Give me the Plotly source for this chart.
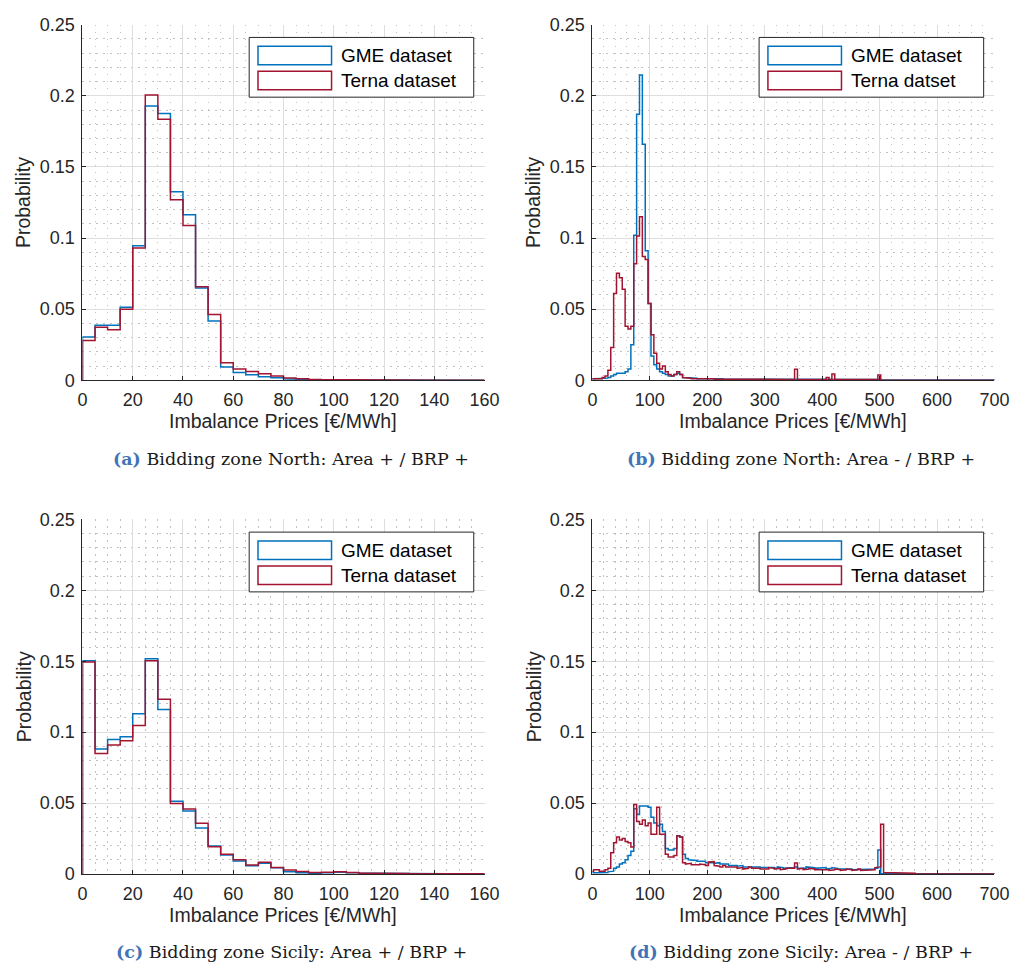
import numpy as np
import plotly.graph_objects as go

# ---------------------------------------------------------------------------
# Histogram data (probability per bin)
# ---------------------------------------------------------------------------
# Bidding zone North / Sicily, Area + / BRP + : 5 EUR/MWh bins from 0
bin_width = 5
start_pos = 0
# Area - / BRP + : 5 EUR/MWh bins starting at -3
start_neg = -3

gme_north_pos = [0.0304, 0.0387, 0.0387, 0.0513, 0.0946, 0.1929, 0.1876, 0.1326,
                 0.1163, 0.0649, 0.0417, 0.0094, 0.0055, 0.0039, 0.0025, 0.0018,
                 0.0010, 0.0006, 0.0004, 0.0003, 0.0002, 0.0002, 0.0001, 0.0001,
                 0.0001, 0.0001, 0.0001, 0.0001, 0.0000, 0.0001, 0.0000, 0.0000]
terna_north_pos = [0.0279, 0.0373, 0.0355, 0.0500, 0.0930, 0.2005, 0.1835, 0.1270,
                   0.1089, 0.0658, 0.0463, 0.0124, 0.0080, 0.0062, 0.0046, 0.0030,
                   0.0016, 0.0010, 0.0006, 0.0004, 0.0003, 0.0002, 0.0002, 0.0001,
                   0.0001, 0.0001, 0.0001, 0.0001, 0.0001, 0.0000, 0.0000, 0.0000]

gme_sicily_pos = [0.1503, 0.0882, 0.0948, 0.0967, 0.1130, 0.1517, 0.1160, 0.0513,
                  0.0444, 0.0325, 0.0198, 0.0134, 0.0092, 0.0058, 0.0076, 0.0044,
                  0.0015, 0.0008, 0.0006, 0.0008, 0.0012, 0.0009, 0.0005, 0.0004,
                  0.0007, 0.0004, 0.0002, 0.0003, 0.0002, 0.0001, 0.0001, 0.0001]
terna_sicily_pos = [0.1494, 0.0849, 0.0909, 0.0939, 0.1047, 0.1503, 0.1232, 0.0497,
                    0.0458, 0.0357, 0.0193, 0.0140, 0.0101, 0.0064, 0.0083, 0.0046,
                    0.0028, 0.0018, 0.0010, 0.0012, 0.0015, 0.0010, 0.0006, 0.0005,
                    0.0009, 0.0004, 0.0002, 0.0003, 0.0002, 0.0001, 0.0001, 0.0001]

gme_north_neg = [
    0.001, 0.001, 0.001, 0.001, 0.001, 0.0015, 0.002, 0.003, 0.004, 0.005,
    0.005, 0.005, 0.006, 0.008, 0.025, 0.102, 0.187, 0.2146, 0.166, 0.091,
    0.054, 0.017, 0.011, 0.008, 0.006, 0.005, 0.004, 0.003, 0.003, 0.004,
    0.005, 0.004, 0.002, 0.002, 0.002, 0.0015, 0.0015, 0.001, 0.001, 0.001,
    0.0015, 0.001, 0.001, 0.001, 0.001, 0.001, 0.0008, 0.0008, 0.0008, 0.0008,
    0.0008, 0.0007, 0.0008, 0.0007, 0.0007, 0.0007, 0.0006, 0.0007, 0.0006, 0.0006,
    0.0006, 0.0006, 0.0005, 0.0006, 0.0005, 0.0005, 0.0006, 0.0005, 0.0005, 0.0005,
    0.0005, 0.0006, 0.0005, 0.0004, 0.0005, 0.0004, 0.0004, 0.0005, 0.0004, 0.0004,
    0.0004, 0.0004, 0.0005, 0.0004, 0.0005, 0.0004, 0.0004, 0.0003, 0.0004, 0.0004,
    0.0004, 0.0003, 0.0004, 0.0003, 0.0004, 0.0003, 0.0003, 0.0004, 0.0003, 0.0004,
    0.0005, 0.0002, 0.0002, 0.0002, 0.0001, 0.0002, 0.0002, 0.0001, 0.0002, 0.0002,
    0.0001, 0.0002, 0.0002, 0.0001, 0.0002, 0.0001, 0.0002, 0.0002, 0.0001, 0.0002,
    0.0001, 0.0002, 0.0001, 0.0002, 0.0002, 0.0001, 0.0002, 0.0001, 0.0002, 0.0001,
    0.0002, 0.0001, 0.0002, 0.0001, 0.0002, 0.0002, 0.0001, 0.0002, 0.0001, 0.0002,
    0.0002]
terna_north_neg = [
    0.001, 0.001, 0.0005, 0.001, 0.002, 0.003, 0.007, 0.023, 0.061, 0.0753,
    0.072, 0.064, 0.038, 0.036, 0.038, 0.082, 0.1015, 0.115, 0.087, 0.085,
    0.054, 0.032, 0.019, 0.012, 0.008, 0.010, 0.006, 0.004, 0.003, 0.004,
    0.006, 0.004, 0.002, 0.0015, 0.0015, 0.001, 0.001, 0.001, 0.001, 0.0015,
    0.0015, 0.001, 0.001, 0.0008, 0.001, 0.0008, 0.001, 0.0008, 0.0008, 0.001,
    0.0008, 0.0008, 0.001, 0.0008, 0.0008, 0.0006, 0.0008, 0.0006, 0.0008, 0.0006,
    0.0006, 0.0008, 0.0006, 0.0006, 0.0008, 0.0006, 0.0006, 0.0005, 0.0006, 0.0008,
    0.0006, 0.0078, 0.0006, 0.0005, 0.0006, 0.0005, 0.0006, 0.0005, 0.0005, 0.0006,
    0.0005, 0.0006, 0.002, 0.0006, 0.0044, 0.0006, 0.0005, 0.0005, 0.0006, 0.0005,
    0.0005, 0.0006, 0.0005, 0.0005, 0.0006, 0.0005, 0.0005, 0.0006, 0.0005, 0.0006,
    0.0037, 0, 0, 0, 0, 0, 0, 0, 0, 0,
    0, 0, 0, 0, 0, 0, 0, 0, 0, 0,
    0, 0, 0, 0, 0, 0, 0, 0, 0, 0,
    0, 0, 0, 0, 0, 0, 0, 0, 0, 0,
    0]

gme_sicily_neg = [
    0.001, 0.0008, 0.0008, 0.0008, 0.001, 0.001, 0.0015, 0.002, 0.004, 0.005,
    0.007, 0.008, 0.010, 0.013, 0.016, 0.046, 0.042, 0.048, 0.048, 0.048,
    0.047, 0.040, 0.036, 0.034, 0.035, 0.030, 0.018, 0.017, 0.017, 0.018,
    0.027, 0.026, 0.014, 0.011, 0.010, 0.0095, 0.0095, 0.009, 0.0095, 0.009,
    0.008, 0.0085, 0.008, 0.0075, 0.008, 0.007, 0.0065, 0.007, 0.006, 0.0065,
    0.006, 0.0055, 0.006, 0.005, 0.0055, 0.005, 0.0055, 0.005, 0.005, 0.0045,
    0.005, 0.0045, 0.005, 0.0045, 0.004, 0.005, 0.0045, 0.004, 0.0045, 0.004,
    0.0045, 0.005, 0.004, 0.0045, 0.004, 0.005, 0.005, 0.0045, 0.004, 0.0045,
    0.004, 0.0045, 0.0035, 0.004, 0.0045, 0.004, 0.0035, 0.004, 0.0035, 0.004,
    0.0035, 0.003, 0.0035, 0.003, 0.0035, 0.003, 0.0035, 0.003, 0.0035, 0.004,
    0.017, 0.0003, 0.0002, 0.0003, 0.0002, 0.0002, 0.0003, 0.0002, 0.0002, 0.0003,
    0.0002, 0.0002, 0.0003, 0.0002, 0.0002, 0.0002, 0.0003, 0.0002, 0.0002, 0.0002,
    0.0003, 0.0002, 0.0002, 0.0002, 0.0003, 0.0002, 0.0002, 0.0002, 0.0002, 0.0003,
    0.0002, 0.0002, 0.0002, 0.0003, 0.0002, 0.0002, 0.0002, 0.0002, 0.0002, 0.0003,
    0.0002]
terna_sicily_neg = [
    0.002, 0.003, 0.003, 0.002, 0.002, 0.003, 0.004, 0.015, 0.022, 0.026,
    0.024, 0.025, 0.023, 0.022, 0.019, 0.049, 0.037, 0.035, 0.038, 0.034,
    0.036, 0.028, 0.028, 0.047, 0.028, 0.028, 0.014, 0.012, 0.012, 0.013,
    0.027, 0.026, 0.008, 0.007, 0.0075, 0.0065, 0.006, 0.0065, 0.007, 0.0065,
    0.006, 0.0085, 0.0087, 0.006, 0.0055, 0.005, 0.006, 0.005, 0.0045, 0.005,
    0.005, 0.004, 0.0045, 0.0035, 0.004, 0.005, 0.004, 0.0045, 0.004, 0.0035,
    0.004, 0.0035, 0.0045, 0.004, 0.0035, 0.004, 0.003, 0.0035, 0.004, 0.0035,
    0.004, 0.0078, 0.0035, 0.004, 0.003, 0.0035, 0.004, 0.0035, 0.003, 0.0035,
    0.003, 0.0035, 0.003, 0.0025, 0.003, 0.0035, 0.003, 0.0025, 0.003, 0.0035,
    0.003, 0.0025, 0.003, 0.0035, 0.0025, 0.003, 0.0025, 0.003, 0.003, 0.0045,
    0.005, 0.035, 0.001, 0.0008, 0.001, 0.0008, 0.001, 0.0008, 0.0006, 0.0008,
    0.0006, 0.0005, 0.0005, 0, 0, 0, 0, 0, 0, 0,
    0, 0, 0, 0, 0, 0, 0, 0, 0, 0,
    0, 0, 0, 0, 0, 0, 0, 0, 0, 0,
    0]

y_ticks = [0, 0.05, 0.1, 0.15, 0.2, 0.25]
x_ticks_pos = [0, 20, 40, 60, 80, 100, 120, 140, 160]
x_ticks_neg = [0, 100, 200, 300, 400, 500, 600, 700]

series_names = ["GME dataset", "Terna dataset"]
series_names_b = ["GME dataset", "Terna datset"]
captions = [
    ("(a)", "Bidding zone North: Area + / BRP +"),
    ("(b)", "Bidding zone North: Area - / BRP +"),
    ("(c)", "Bidding zone Sicily: Area + / BRP +"),
    ("(d)", "Bidding zone Sicily: Area - / BRP +"),
]

# ---------------------------------------------------------------------------
# Styling
# ---------------------------------------------------------------------------
W, H = 1032, 980
BLUE = "#0072BD"
RED = "#A2142F"
AXIS = "#262626"
SANS = "Liberation Sans, Arial, sans-serif"
SERIF = "DejaVu Serif, serif"

# plot areas in pixels: (left, right, top, bottom)
panels = {
    "a": (79, 489, 15, 378),
    "b": (599, 1009, 15, 378),
    "c": (79, 489, 520, 882),
    "d": (599, 1009, 520, 882),
}


def px(x):
    return x / W


def py(y):
    return 1 - y / H


def stairs(values, start, width):
    edges = start + width * np.arange(len(values) + 1)
    xs, ys = [edges[0]], [0.0]
    for i, v in enumerate(values):
        xs += [edges[i], edges[i + 1]]
        ys += [v, v]
    xs.append(edges[-1])
    ys.append(0.0)
    return xs, ys


fig = go.Figure()

panel_data = [
    ("a", "x", "y", gme_north_pos, terna_north_pos, start_pos, 160, x_ticks_pos, 5, series_names),
    ("b", "x2", "y2", gme_north_neg, terna_north_neg, start_neg, 700, x_ticks_neg, 20, series_names_b),
    ("c", "x3", "y3", gme_sicily_pos, terna_sicily_pos, start_pos, 160, x_ticks_pos, 5, series_names),
    ("d", "x4", "y4", gme_sicily_neg, terna_sicily_neg, start_neg, 700, x_ticks_neg, 20, series_names),
]

shapes, annotations = [], []
layout_axes = {}

for key, xa, ya, gme, terna, start, xmax, xt, xminor, names in panel_data:
    for vals, col in ((gme, BLUE), (terna, RED)):
        xs, ys = stairs(vals, start, bin_width)
        fig.add_trace(go.Scatter(x=xs, y=ys, mode="lines", xaxis=xa, yaxis=ya,
                                 line=dict(color=col, width=1.5),
                                 showlegend=False, hoverinfo="skip"))

    L, R, T, B = panels[key]
    xname = "xaxis" + xa[1:]
    yname = "yaxis" + ya[1:]
    common = dict(
        showline=True, linecolor=AXIS, linewidth=1, mirror=False,
        ticks="inside", ticklen=4, tickcolor=AXIS, tickwidth=1,
        showgrid=True, gridcolor="#dedede", gridwidth=1,
        zeroline=False, tickfont=dict(family=SANS, size=18, color=AXIS),
        ticklabelstandoff=3, fixedrange=True,
    )
    minor_grid = dict(tick0=0, showgrid=True, gridcolor="#c2c2c2",
                      griddash="1.5px,5.5px", gridwidth=1, ticks="")
    layout_axes[xname] = dict(
        common, domain=[px(L), px(R)], anchor=ya, range=[0, xmax],
        tickvals=xt, ticktext=[str(v) for v in xt],
        minor=dict(minor_grid, dtick=xminor),
    )
    layout_axes[yname] = dict(
        common, domain=[py(B), py(T)], anchor=xa, range=[0, 0.25],
        tickvals=y_ticks, ticktext=["0", "0.05", "0.1", "0.15", "0.2", "0.25"],
        minor=dict(minor_grid, dtick=0.01),
    )

    # axis titles
    annotations.append(dict(x=px((L + R) / 2), y=py(B + 42), xref="paper", yref="paper",
                            text="Imbalance Prices [€/MWh]", showarrow=False,
                            font=dict(family=SANS, size=19.5, color=AXIS),
                            xanchor="center", yanchor="middle"))
    annotations.append(dict(x=px(L - 60), y=py((T + B) / 2), xref="paper", yref="paper",
                            text="Probability", showarrow=False, textangle=-90,
                            font=dict(family=SANS, size=19.5, color=AXIS),
                            xanchor="center", yanchor="middle"))

    # legend box with outlined patches
    bx0, bx1 = R - 240, R - 11
    by0, by1 = T + 13, T + 74
    shapes.append(dict(type="rect", xref="paper", yref="paper",
                       x0=px(bx0), x1=px(bx1), y0=py(by1), y1=py(by0),
                       line=dict(color=AXIS, width=1), fillcolor="white", layer="above"))
    for j, (name, col) in enumerate(zip(names, (BLUE, RED))):
        t0 = T + 22 + j * 25.5
        shapes.append(dict(type="rect", xref="paper", yref="paper",
                           x0=px(bx0 + 9), x1=px(bx0 + 84), y0=py(t0 + 19), y1=py(t0),
                           line=dict(color=col, width=1.5), fillcolor="white", layer="above"))
        annotations.append(dict(x=px(bx0 + 92), y=py(t0 + 9.5), xref="paper", yref="paper",
                                text=name, showarrow=False,
                                font=dict(family=SANS, size=19, color="black"),
                                xanchor="left", yanchor="middle"))

    # sub-figure caption
    label, cap = captions["abcd".index(key)]
    annotations.append(dict(x=px((L + R) / 2 + 8), y=py(B + 80), xref="paper", yref="paper",
                            text=f"<b><span style='color:#3f74b8'>{label}</span></b> {cap}",
                            showarrow=False,
                            font=dict(family=SERIF, size=17.5, color="#1a1a1a"),
                            xanchor="center", yanchor="middle"))

fig.update_layout(
    width=W, height=H,
    margin=dict(l=0, r=0, t=0, b=0),
    paper_bgcolor="white", plot_bgcolor="white",
    showlegend=False,
    shapes=shapes, annotations=annotations,
    **layout_axes,
)

fig.write_html("out.html")
